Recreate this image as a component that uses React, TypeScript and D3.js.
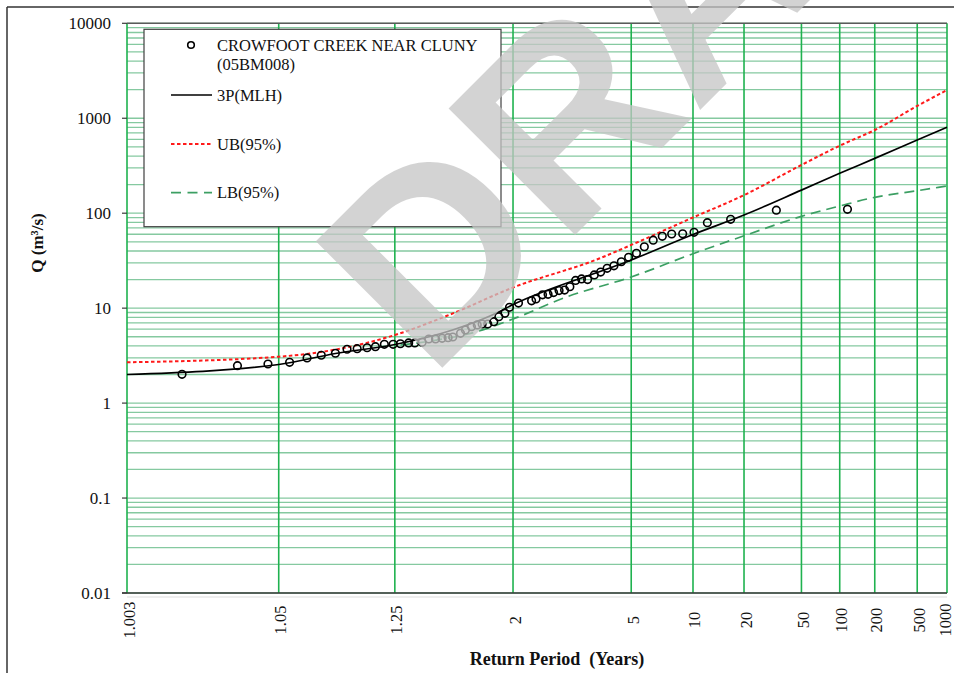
import React from "react";
import * as d3 from "d3";

// ---------- data ----------
const xTickValues = [1.003, 1.05, 1.25, 2, 5, 10, 20, 50, 100, 200, 500, 1000];
const xTickLabels = ["1.003", "1.05", "1.25", "2", "5", "10", "20", "50", "100", "200", "500", "1000"];
const yTickValues = [0.01, 0.1, 1, 10, 100, 1000, 10000];
const yTickLabels = ["0.01", "0.1", "1", "10", "100", "1000", "10000"];

// observed annual peaks: return period (years) and discharge (m3/s)
const obsT = [
  1.0093, 1.0255, 1.0422, 1.0591, 1.0767, 1.0942, 1.1148, 1.1346, 1.1541, 1.1756,
  1.1955, 1.2192, 1.2447, 1.2679, 1.2965, 1.3193, 1.3492, 1.378, 1.4094, 1.4426,
  1.4749, 1.5015, 1.5485, 1.5805, 1.6223, 1.665, 1.7036, 1.75, 1.8034, 1.8512,
  1.9117, 1.9608, 2.064, 2.235, 2.299, 2.399, 2.491, 2.588, 2.692, 2.803,
  2.917, 3.049, 3.197, 3.359, 3.554, 3.754, 3.978, 4.234, 4.539, 4.873,
  5.271, 5.718, 6.285, 6.949, 7.734, 8.81, 10.13, 12.02, 16.5, 32.9, 116,
];
const obsQ = [
  2.01, 2.48, 2.58, 2.69, 2.99, 3.19, 3.35, 3.69, 3.74, 3.83,
  3.93, 4.16, 4.16, 4.22, 4.3, 4.3, 4.37, 4.73, 4.73, 4.81,
  4.89, 4.97, 5.43, 5.89, 6.38, 6.65, 6.81, 6.81, 7.2, 8.13,
  8.83, 10.2, 11.3, 11.95, 12.5, 13.8, 14.0, 14.6, 15.3, 15.5,
  16.8, 19.6, 20.3, 20.0, 22.4, 24.0, 26.3, 27.9, 30.8, 34.3,
  37.8, 44.3, 52.0, 57.1, 60.4, 60.7, 62.9, 79.4, 86.3, 107.5, 109.9,
];

// fitted 3P (MLH) distribution
const fitT = [1.003, 1.05, 1.1148, 1.25, 1.5, 1.789, 2, 5, 10, 20, 50, 100, 200, 500, 1000];
const fitQ = [2.0, 2.55, 3.33, 4.14, 5.89, 8.47, 10.9, 32.1, 59.7, 95.7, 175, 263, 378, 590, 803];

// upper bound 95%
const ubT = [1.003, 1.05, 1.25, 1.488, 2, 3.73, 5, 10, 20, 50, 100, 200, 500, 1000];
const ubQ = [2.69, 3.08, 5.21, 8.6, 16.5, 33.5, 46.3, 90.1, 155, 322, 514, 752, 1346, 1984];

// lower bound 95%
const lbT = [1.268, 1.434, 1.6155, 2, 2.86, 5, 10, 20, 50, 100, 200, 500, 1000];
const lbQ = [4.09, 4.68, 5.43, 7.69, 13.2, 21.3, 37.4, 57.8, 92.7, 119, 147, 172.6, 193.4];

const legendLabels = ["CROWFOOT CREEK NEAR CLUNY", "(05BM008)", "3P(MLH)", "UB(95%)", "LB(95%)"];

// ---------- helpers ----------
function probit(p: number): number {
  const a = [-3.969683028665376e1, 2.209460984245205e2, -2.759285104469687e2, 1.38357751867269e2, -3.066479806614716e1, 2.506628277459239];
  const b = [-5.447609879822406e1, 1.615858368580409e2, -1.556989798598866e2, 6.680131188771972e1, -1.328068155288572e1];
  const c = [-7.784894002430293e-3, -3.223964580411365e-1, -2.400758277161838, -2.549732539343734, 4.374664141464968, 2.938163982698783];
  const d = [7.784695709041462e-3, 3.224671290700398e-1, 2.445134137142996, 3.754408661907416];
  const pl = 0.02425;
  if (p < pl) {
    const q = Math.sqrt(-2 * Math.log(p));
    return (((((c[0] * q + c[1]) * q + c[2]) * q + c[3]) * q + c[4]) * q + c[5]) / ((((d[0] * q + d[1]) * q + d[2]) * q + d[3]) * q + 1);
  }
  if (p <= 1 - pl) {
    const q = p - 0.5;
    const r = q * q;
    return ((((((a[0] * r + a[1]) * r + a[2]) * r + a[3]) * r + a[4]) * r + a[5]) * q) / (((((b[0] * r + b[1]) * r + b[2]) * r + b[3]) * r + b[4]) * r + 1);
  }
  const q = Math.sqrt(-2 * Math.log(1 - p));
  return -(((((c[0] * q + c[1]) * q + c[2]) * q + c[3]) * q + c[4]) * q + c[5]) / ((((d[0] * q + d[1]) * q + d[2]) * q + d[3]) * q + 1);
}
const zOfT = (t: number) => probit(1 - 1 / t);

const W = 954;
const H = 673;
const PL = 127;
const PR = 947;
const PT = 23.3;
const PB = 593;

const zScale = d3.scaleLinear().domain([zOfT(1.003), zOfT(1000)]).range([PL, PR]);
const x = (t: number) => zScale(zOfT(t));
const y = d3.scaleLog().domain([0.01, 10000]).range([PB, PT]);

const serif = "'Liberation Serif', 'Times New Roman', serif";

function pts(ts: number[], qs: number[]) {
  return ts.map((t, i) => ({ t, q: qs[i] }));
}
const lineGen = d3
  .line<{ t: number; q: number }>()
  .x((d) => x(d.t))
  .y((d) => y(d.q))
  .curve(d3.curveMonotoneX);

export default function App() {
  const minorVals: number[] = [];
  for (let e = -2; e < 4; e++) {
    for (let k = 1; k <= 9; k++) minorVals.push(k * Math.pow(10, e));
  }
  minorVals.push(10000);

  const fitPath = lineGen(pts(fitT, fitQ)) || "";
  const ubPath = lineGen(pts(ubT, ubQ)) || "";
  const lbPath = lineGen(pts(lbT, lbQ)) || "";

  const legX = 144;
  const legY = 29.3;

  return (
    <svg width={W} height={H} style={{ position: "absolute", left: 0, top: 0, background: "#fff" }}>
      <rect x={0} y={0} width={W} height={H} fill="#fff" />
      {/* outer frame */}
      <line x1={7} y1={7} x2={W} y2={7} stroke="#333" strokeWidth={1.5} />
      <line x1={7} y1={7} x2={7} y2={H} stroke="#333" strokeWidth={1.5} />

      {/* horizontal gridlines */}
      {minorVals.map((v, i) => (
        <line key={"h" + i} x1={PL} x2={PR} y1={y(v)} y2={y(v)} stroke="#85c9a0" strokeWidth={1.3} />
      ))}
      {/* vertical gridlines */}
      {xTickValues.map((t, i) => (
        <line key={"v" + i} x1={x(t)} x2={x(t)} y1={PT} y2={PB} stroke="#1fb24f" strokeWidth={1.6} />
      ))}
      {/* plot top border and x axis */}
      <line x1={PL} x2={PR} y1={PT} y2={PT} stroke="#5a5a5a" strokeWidth={1.5} />
      <line x1={PL} x2={PR} y1={PB + 4} y2={PB + 4} stroke="#dddddd" strokeWidth={1.2} />
      <line x1={PL - 5} x2={PR} y1={PB} y2={PB} stroke="#3a3a3a" strokeWidth={1.6} />

      {/* y ticks */}
      {yTickValues.map((v, i) => (
        <g key={"yt" + i}>
          <line x1={PL - 5} x2={PL} y1={y(v)} y2={y(v)} stroke="#3a3a3a" strokeWidth={1.2} />
          <text x={111} y={y(v)} textAnchor="end" dominantBaseline="central" fontFamily={serif} fontSize={17} fill="#111">
            {yTickLabels[i]}
          </text>
        </g>
      ))}
      {/* x tick labels */}
      {xTickValues.map((t, i) => (
        <text
          key={"xt" + i}
          transform={`translate(${Math.min(x(t) + 2, 945)},${620}) rotate(-90)`}
          textAnchor="middle"
          dominantBaseline="central"
          fontFamily={serif}
          fontSize={16.5}
          fill="#111"
        >
          {xTickLabels[i]}
        </text>
      ))}

      {/* axis titles */}
      <text x={557} y={665} textAnchor="middle" fontFamily={serif} fontWeight="bold" fontSize={18} fill="#111" xmlSpace="preserve">
        {"Return Period  (Years)"}
      </text>
      <text transform="translate(43,243) rotate(-90)" textAnchor="middle" fontFamily={serif} fontWeight="bold" fontSize={17} fill="#111">
        Q (m³/s)
      </text>

      {/* curves */}
      <path d={fitPath} fill="none" stroke="#000" strokeWidth={1.7} />
      <path d={ubPath} fill="none" stroke="#ff1a1a" strokeWidth={2} strokeDasharray="3.5,2.5" />
      <path d={lbPath} fill="none" stroke="#3c9f63" strokeWidth={1.7} strokeDasharray="10,6" />

      {/* observed points */}
      {obsT.map((t, i) => (
        <circle key={"p" + i} cx={x(t)} cy={y(obsQ[i])} r={3.8} fill="none" stroke="#000" strokeWidth={1.6} />
      ))}

      {/* legend */}
      <rect x={legX} y={legY} width={357} height={197.4} fill="#fff" stroke="#404040" strokeWidth={1.2} />
      <circle cx={191} cy={45} r={3.3} fill="none" stroke="#000" strokeWidth={1.6} />
      <text x={217} y={50.5} fontFamily={serif} fontSize={16.5} fill="#111">{legendLabels[0]}</text>
      <text x={217} y={69.5} fontFamily={serif} fontSize={16.5} fill="#111">{legendLabels[1]}</text>
      <line x1={171} x2={212} y1={95} y2={95} stroke="#000" strokeWidth={1.7} />
      <text x={217} y={100.5} fontFamily={serif} fontSize={16.5} fill="#111">{legendLabels[2]}</text>
      <line x1={171} x2={212} y1={144} y2={144} stroke="#ff1a1a" strokeWidth={2} strokeDasharray="3.5,2.5" />
      <text x={217} y={149.5} fontFamily={serif} fontSize={16.5} fill="#111">{legendLabels[3]}</text>
      <line x1={171} x2={212} y1={192.7} y2={192.7} stroke="#3c9f63" strokeWidth={1.7} strokeDasharray="10,6.5" />
      <text x={217} y={198} fontFamily={serif} fontSize={16.5} fill="#111">{legendLabels[4]}</text>

      {/* watermark */}
      <text
        transform="translate(430,380) rotate(-45)"
        fontFamily="'Liberation Sans', Arial, sans-serif"
        fontWeight="bold"
        fontSize={260}
        fill="rgb(197,197,197)"
        fillOpacity={0.76}
      >
        DRAFT
      </text>
    </svg>
  );
}
